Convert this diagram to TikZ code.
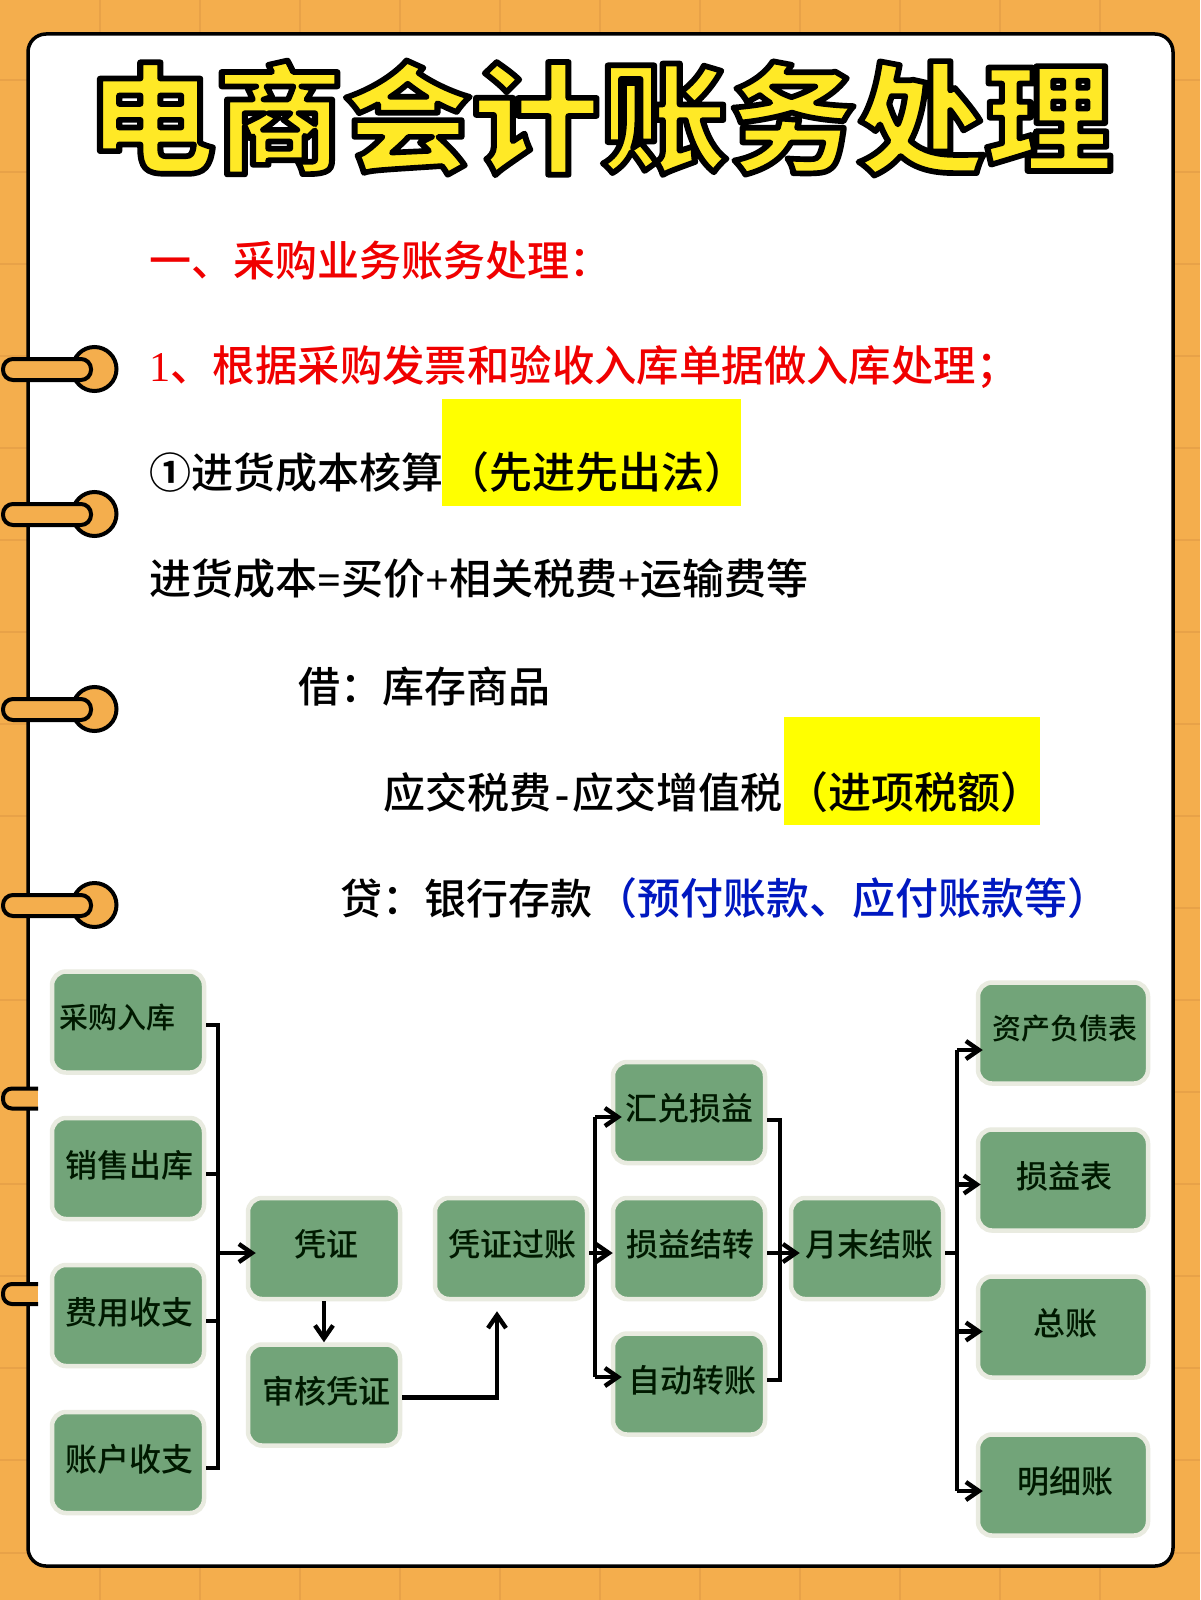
\documentclass[tikz,border=0pt]{standalone}
\usepackage{fontspec}
\usetikzlibrary{arrows.meta}
\setmainfont{Noto Sans CJK SC Medium}
\newfontfamily\titlefont{Noto Sans CJK SC Black}
\newfontfamily\circfont{Noto Sans CJK SC Bold}
\newfontfamily\latinser{Liberation Serif}[BoldFont={Liberation Serif Bold}]
\definecolor{bgorange}{HTML}{F4AE4D}
\definecolor{gridline}{HTML}{E8A248}
\definecolor{ttlyellow}{HTML}{FFE926}
\definecolor{nodegreen}{HTML}{72A479}
\definecolor{nodeedge}{HTML}{E9EBE0}
\definecolor{hiyellow}{HTML}{FFFF00}
\definecolor{redtxt}{HTML}{F00000}
\definecolor{bluetxt}{HTML}{0018C0}
\newcommand\boxtext[4]{\smash{\makebox[0pt][l]{\kern#1pt\makebox[0pt][c]{\raisebox{#2pt}{\fontsize{#3}{#3}\selectfont #4}}}}}
\newcommand\ltn[1]{{\latinser\bfseries #1}}
\newcommand\wider[1]{{\fontsize{43}{43}\selectfont #1}}
\tikzset{
  flowbox/.style={draw=nodeedge,fill=nodegreen,line width=4.5pt,rounded corners=14pt,
    minimum width=152pt,minimum height=101pt,inner sep=0pt,text=black!90!green},
  widebox/.style={flowbox,minimum width=170pt},
  bodyline/.style={anchor=base west,inner sep=0pt,font=\fontsize{42}{42}\selectfont},
  highlight/.style={fill=hiyellow,draw=none},
  conn/.style={draw=black,line width=4.2pt,line join=miter},
  arrowconn/.style={conn,-{Straight Barb[length=13pt,width=18pt,line width=4.4pt]}},
  ringfill/.style={fill=bgorange,draw=black,line width=4pt},
}
\begin{document}
\begin{tikzpicture}[x=1pt,y=-1pt]
\useasboundingbox (0,0) rectangle (1200,1600);
% background
\fill[bgorange] (0,0) rectangle (1200,1600);
\foreach \gx in {100,200,...,1100} \draw[gridline,line width=1.5pt] (\gx,0) -- (\gx,1600);
\foreach \gy in {80,172,264,356,448,540,632,724,816,908,1000,1092,1184,1276,1368,1460,1553} \draw[gridline,line width=1.5pt] (0,\gy) -- (1200,\gy);
% card
\draw[fill=white,draw=black,line width=3.5pt,rounded corners=18pt] (28,34) rectangle (1173,1566);
% rings
\foreach \ry in {369,514,709,905}{
  \draw[ringfill] (94.5,\ry) circle (22pt);
  \draw[ringfill,rounded corners=10pt] (3,\ry-10) rectangle (91,\ry+11);
}
\foreach \ry in {1098.5,1294}{
  \path[fill=bgorange] (38,\ry-10) -- (3,\ry-10) -- (3,\ry+10) -- (38,\ry+10) -- cycle;
  \draw[black,line width=4pt,rounded corners=9pt] (38,\ry-10) -- (3,\ry-10) -- (3,\ry+10) -- (38,\ry+10);
}
% title
\node[inner sep=0pt,xscale=1.01,yscale=0.94,transform shape] (title) at (600,118) {\titlefont\fontsize{127}{127}\selectfont\color{ttlyellow}\special{pdf:code 0 0 0 RG 2 Tr 6 w 1 j}电商会计账务处理\special{pdf:code 0 Tr 1 w}};
% highlights
\fill[highlight] (442,399) rectangle (741,506);
\fill[highlight] (784,717) rectangle (1040,825);
% body text
\node[bodyline,text=redtxt] (l1) at (149,276) {一、采购业务账务处理：};
\node[bodyline,text=redtxt,font=\fontsize{42.4}{42.4}\selectfont] (l2) at (149,381) {{\latinser 1}、根据采购发票和验收入库单据做入库处理；};
\node[bodyline] (l3) at (149,488) {{\circfont ①}进货成本核算\kern3pt\wider{（先进先出法）}};
\node[bodyline] (l4) at (149,594) {进货成本\ltn{=}买价\ltn{+}相关税费\ltn{+}运输费等};
\node[bodyline] (l5) at (298,702) {借：库存商品};
\node[bodyline] (l6) at (383,808) {应交税费\kern4pt\ltn{-}\kern3pt 应交增值税\kern3pt\wider{（进项税额）}};
\node[bodyline] (l7) at (340,914) {贷：银行存款\kern2pt\textcolor{bluetxt}{\wider{（预付账款、应付账款等）}}};
% flow boxes
\node[flowbox] (cg) at (128,1022) {\boxtext{-11}{-6}{29}{采购入库}};
\node[flowbox] (xs) at (128,1168.5) {\boxtext{1}{-9}{32}{销售出库}};
\node[flowbox] (fy) at (128,1315.5) {\boxtext{1}{-9}{32}{费用收支}};
\node[flowbox] (zh) at (128,1462.5) {\boxtext{1}{-9}{32}{账户收支}};
\node[flowbox] (pz) at (324,1248.5) {\boxtext{2}{-8}{32}{凭证}};
\node[flowbox] (sh) at (324,1395) {\boxtext{2}{-8}{32}{审核凭证}};
\node[flowbox] (gz) at (511,1248.5) {\boxtext{1}{-8}{32}{凭证过账}};
\node[flowbox] (hd) at (689,1112.5) {\boxtext{0}{-8}{32}{汇兑损益}};
\node[flowbox] (sy) at (689,1248.5) {\boxtext{1}{-8}{32}{损益结转}};
\node[flowbox] (zd) at (689,1384) {\boxtext{3}{-8}{32}{自动转账}};
\node[flowbox] (yj) at (867,1248.5) {\boxtext{2}{-8}{32}{月末结账}};
\node[widebox] (zc) at (1063,1033) {\boxtext{2}{-6}{29}{资产负债表}};
\node[widebox] (sb) at (1063,1180) {\boxtext{1}{-8}{32}{损益表}};
\node[widebox] (zz) at (1063,1327) {\boxtext{2}{-8}{32}{总账}};
\node[widebox] (mx) at (1063,1485) {\boxtext{2}{-8}{32}{明细账}};
% junction points
\coordinate (b1t) at (218,1025);
\coordinate (b1m) at (218,1253);
\coordinate (b1b) at (218,1468);
\coordinate (b2t) at (595,1117);
\coordinate (b2m) at (595,1253);
\coordinate (b2b) at (595,1377);
\coordinate (b3t) at (780,1120);
\coordinate (b3m) at (780,1253);
\coordinate (b3b) at (780,1380);
\coordinate (b4t) at (957,1050);
\coordinate (b4m) at (957,1253);
\coordinate (b4c) at (957,1184.5);
\coordinate (b4d) at (957,1331.5);
\coordinate (b4b) at (957,1491);
\coordinate (shup) at (497,1397.5);
% connectors
\draw[conn] (cg.east |- b1t) -- (b1t) -- (b1b) -- (zh.east |- b1b);
\draw[conn] (xs.east |- 0,1174) -- (218,1174);
\draw[conn] (fy.east |- 0,1321) -- (218,1321);
\draw[arrowconn] (b1m) -- ([xshift=10pt]pz.west |- b1m);
\draw[arrowconn] (pz.south) -- (sh.north);
\draw[arrowconn] (sh.east |- shup) -- (shup) -- ([yshift=-10pt]gz.south -| shup);
\draw[conn] (gz.east |- b2m) -- (b2m);
\draw[conn] (b2t) -- (b2b);
\draw[arrowconn] (b2t) -- ([xshift=11pt]hd.west |- b2t);
\draw[arrowconn] (b2m) -- ([xshift=2pt]sy.west |- b2m);
\draw[arrowconn] (b2b) -- ([xshift=11pt]zd.west |- b2b);
\draw[conn] (hd.east |- b3t) -- (b3t) -- (b3b) -- (zd.east |- b3b);
\draw[conn] (sy.east |- b3m) -- (b3m);
\draw[arrowconn] (b3m) -- ([xshift=11pt]yj.west |- b3m);
\draw[conn] (yj.east |- b4m) -- (b4m);
\draw[conn] (b4t) -- (b4b);
\draw[arrowconn] (b4t) -- ([xshift=7pt]zc.west |- b4t);
\draw[arrowconn] (b4c) -- ([xshift=5pt]sb.west |- b4c);
\draw[arrowconn] (b4d) -- ([xshift=7pt]zz.west |- b4d);
\draw[arrowconn] (b4b) -- ([xshift=7pt]mx.west |- b4b);
\end{tikzpicture}
\end{document}
